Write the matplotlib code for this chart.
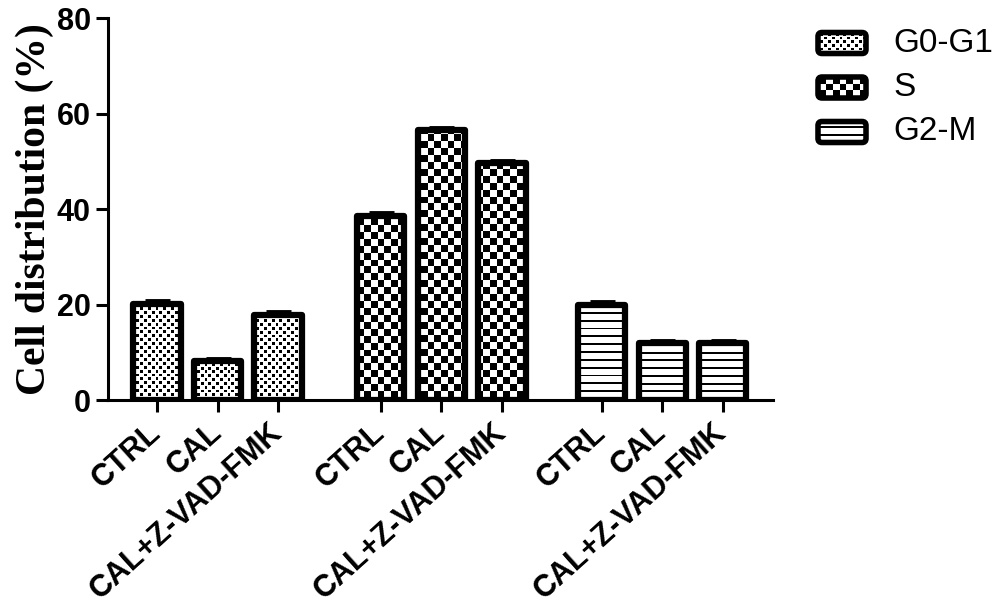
import matplotlib

matplotlib.use("Agg")
import matplotlib.pyplot as plt
import numpy as np
from matplotlib.patches import FancyBboxPatch

phases = ["G0-G1", "S", "G2-M"]
treatments = ["CTRL", "CAL", "CAL+Z-VAD-FMK"]
g0g1 = [20.2, 8.2, 17.8]
s_phase = [38.5, 56.5, 49.6]
g2m = [19.9, 11.9, 11.9]
g0g1_err = [0.6, 0.5, 0.6]
s_phase_err = [0.6, 0.6, 0.6]
g2m_err = [0.6, 0.5, 0.5]
y_ticks = [0, 20, 40, 60, 80]

group_starts = [0.0, 3.7, 7.35]
textures = ["fine", "checker", "lines"]
DPI = 100


def texture(kind, xs, ys):
    X, Y = np.meshgrid(xs, ys)
    if kind == "fine":
        return (((X // 4 + Y // 4) % 2 == 0) & (X % 4 < 3) & (Y % 4 < 3)).astype(float)
    if kind == "checker":
        return ((X // 7 + Y // 7) % 2 == 0).astype(float)
    return (Y % 8 < 2).astype(float)


def fill_patch(axis, patch, kind, extent):
    """Paint a pixel texture inside a patch, clipped to its outline."""
    x0, x1, y0, y1 = extent
    (px0, py0), (px1, py1) = axis.transData.transform([(x0, y0), (x1, y1)])
    px0, px1 = sorted([px0, px1])
    py0, py1 = sorted([py0, py1])
    xs = np.arange(int(px0), int(np.ceil(px1)) + 1)
    ys = np.arange(int(py0), int(np.ceil(py1)) + 1)
    image = axis.imshow(
        texture(kind, xs, ys),
        extent=extent,
        origin="lower" if y1 > y0 else "upper",
        cmap="gray_r",
        vmin=0,
        vmax=1,
        interpolation="nearest",
        aspect="auto",
        zorder=2,
    )
    image.set_clip_path(patch)


fig = plt.figure(figsize=(10, 6.09), dpi=DPI)
ax = fig.add_axes([0.108, 0.343, 0.665, 0.627])
ax.set_xlim(-0.81, 10.18)
ax.set_ylim(0, 80)

series = [g0g1, s_phase, g2m]
errors = [g0g1_err, s_phase_err, g2m_err]
positions = []
for start, values, errs, kind in zip(group_starts, series, errors, textures):
    x = start + np.arange(len(values))
    positions.extend(x)
    bars = ax.bar(
        x, values, width=0.78, facecolor="white", edgecolor="black",
        linewidth=4.5, zorder=3,
    )
    for bar in bars:
        bar.set_facecolor("none")
        bar.set_joinstyle("round")
        fill_patch(
            ax, bar, kind,
            (bar.get_x(), bar.get_x() + bar.get_width(), 0, bar.get_height()),
        )
    ax.errorbar(
        x, values, yerr=[np.zeros(len(values)), errs], fmt="none",
        ecolor="black", elinewidth=3, capsize=9, capthick=3.5, zorder=4,
    )

ax.set_xticks(positions, treatments * len(phases))
ax.set_yticks(y_ticks)
for label in ax.get_xticklabels():
    label.set_rotation(42)
    label.set_ha("right")
    label.set_va("center")
    label.set_rotation_mode("anchor")
for label in ax.get_xticklabels() + ax.get_yticklabels():
    label.set_fontfamily("Liberation Sans")
    label.set_fontweight("bold")
    label.set_fontsize(22)

ax.tick_params(axis="both", direction="out", length=8.5, width=2.2, pad=4)
ax.tick_params(axis="x", pad=12)
for side in ["top", "right"]:
    ax.spines[side].set_visible(False)
for side in ["left", "bottom"]:
    ax.spines[side].set_linewidth(2.2)
ax.set_ylabel(
    "Cell distribution (%)", fontfamily="Liberation Serif", fontweight="bold",
    fontsize=30, labelpad=2,
)

# legend drawn in figure pixel coordinates
legend_ax = fig.add_axes([0, 0, 1, 1])
legend_ax.set_xlim(0, 1000)
legend_ax.set_ylim(609, 0)
legend_ax.axis("off")
for i, (name, kind) in enumerate(zip(phases, textures)):
    cy = 43 + 44.5 * i
    box = FancyBboxPatch(
        (818, cy - 10.5), 48, 21, boxstyle="round,pad=0,rounding_size=4",
        facecolor="none", edgecolor="black", linewidth=4, zorder=3,
    )
    legend_ax.add_patch(box)
    fill_patch(legend_ax, box, kind, (818, 866, cy + 10.5, cy - 10.5))
    legend_ax.text(
        893, cy, name, fontfamily="Liberation Sans", fontsize=24, va="center",
        ha="left",
    )

fig.savefig("out.png", dpi=DPI)
